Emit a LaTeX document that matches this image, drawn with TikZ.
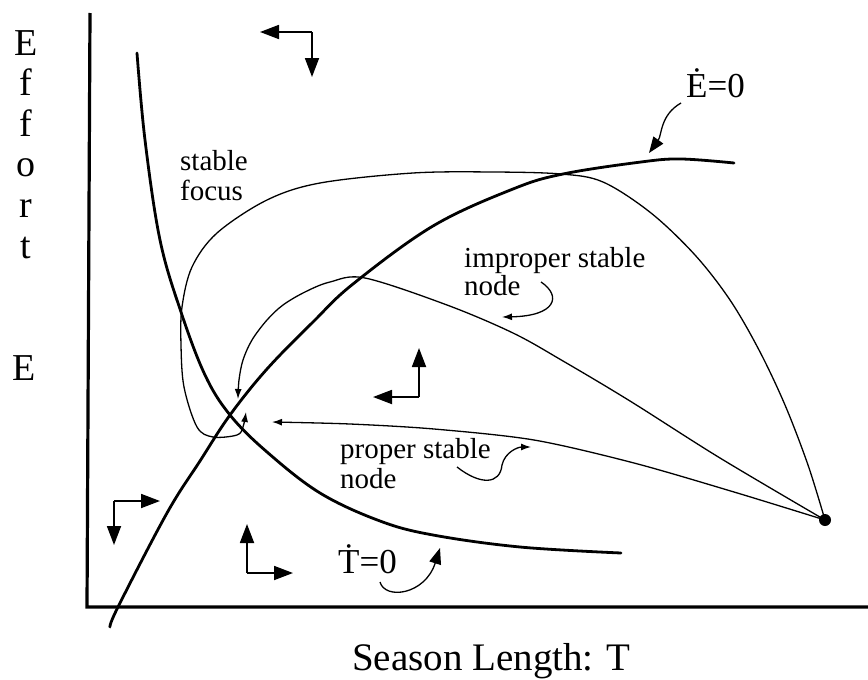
\documentclass[tikz,border=0pt]{standalone}
\usepackage{fontspec}
\setmainfont{Liberation Serif}
\usetikzlibrary{arrows.meta}
\begin{document}
\begin{tikzpicture}[x=1pt,y=-1pt,
  axis/.style={line width=3.2pt},
  iso/.style={line width=2.8pt, line cap=round},
  traj/.style={line width=1.3pt},
  lbl/.style={font=\fontsize{29}{30}\selectfont, inner sep=0pt, anchor=base west},
  eqlbl/.style={font=\fontsize{35}{38}\selectfont, inner sep=0pt, anchor=base west},
  biglbl/.style={font=\fontsize{38}{40.6}\selectfont, inner sep=0pt},
  dirarrow/.style={line width=1.8pt, -{Triangle[length=19pt,width=14pt]}},
  smalltip/.style={-{Latex[length=10pt,width=7pt]}},
  bigtip/.style={-{Triangle[length=16pt,width=12pt]}}
]
\useasboundingbox (0,0) rectangle (868,680);

% axes
\coordinate (ytop) at (90,13);
\coordinate (origin) at (87,607);
\coordinate (xend) at (868,607);
\draw[axis] (ytop) -- (origin) -- (xend);

% axis labels
\node[biglbl, align=center, anchor=north] (effort) at (26,30) {E\\f\\f\\o\\r\\t};
\node[biglbl, anchor=base west] (elabel) at (12,380) {E};
\node[font=\fontsize{39}{42}\selectfont, inner sep=0pt, anchor=base west] (tlabel) at (352,670) {Season Length: T};

% isoclines
\draw[iso] plot[smooth, tension=0.6] coordinates {(137,53) (145,140) (160,240) (181,312) (205,375) (230,415) (267,452) (320,493) (380,521) (433,535) (520,547) (621,553)};
\draw[iso] plot[smooth, tension=0.6] coordinates {(110,627) (118,607) (167,513) (200,461) (230,415) (267,369) (313,322) (353,284) (433,226) (513,189) (563,174) (641,162) (681,159) (734,163)};

% equilibrium and source
\coordinate (eq) at (230,415);
\node[circle, fill=black, inner sep=0pt, minimum size=12pt] (src) at (825,520) {};

% trajectories
\draw[traj, smalltip] plot[smooth, tension=0.55] coordinates {(825,520) (808,465) (785,405) (759,350) (730,300) (695,255) (651,213) (603,182) (561,174) (493,172) (413,173) (320,183) (267,200) (217,233) (192,267) (182,307) (181,345) (184,387) (197,427) (213,437) (237,435) (243,427) (246,412)};
\draw[traj, smalltip] plot[smooth, tension=0.55] coordinates {(825,520) (720,458) (630,401) (563,361) (513,333) (447,305) (365,278) (330,282) (305,292) (283,305) (267,320) (252,340) (243,360) (239,380) (238,399)};
\draw[traj, smalltip] plot[smooth, tension=0.5] coordinates {(825,520) (734,492) (634,463) (534,440) (434,429) (350,424) (272,422)};

% labels
\node[lbl] (sf1) at (180,170) {stable};
\node[lbl] (sf2) at (180,200) {focus};
\node[lbl] (is1) at (464,267) {improper stable};
\node[lbl] (is2) at (464,295) {node};
\node[lbl] (ps1) at (340,458) {proper stable};
\node[lbl] (ps2) at (340,488) {node};
\node[eqlbl] (edot) at (686,97) {\.{E}=0};
\node[eqlbl] (tdot) at (338,573) {\.{T}=0};

% label pointers
\coordinate (ep) at (649,153);
\draw[traj, bigtip] (681,103) .. controls (660,115) and (662,135) .. (ep);
\coordinate (ip) at (502,317);
\draw[traj, smalltip] (541,282) .. controls (562,296) and (556,316) .. (ip);
\coordinate (pp) at (531,447);
\draw[traj, smalltip] (457,467) .. controls (480,485) and (500,485) .. (502,465) .. controls (505,452) and (518,447) .. (pp);
\coordinate (tp) at (440,548);
\draw[traj, bigtip] (380,582) .. controls (385,600) and (425,595) .. (tp);

% direction arrows
\coordinate (d1) at (312,32);
\draw[dirarrow] (d1) -- (260,32);
\draw[dirarrow] (d1) -- (312,77);
\coordinate (d2) at (419,397);
\draw[dirarrow] (d2) -- (419,348);
\draw[dirarrow] (d2) -- (373,397);
\coordinate (d3) at (114,501);
\draw[dirarrow] (d3) -- (160,501);
\draw[dirarrow] (d3) -- (114,545);
\coordinate (d4) at (247,573);
\draw[dirarrow] (d4) -- (247,524);
\draw[dirarrow] (d4) -- (293,573);
\end{tikzpicture}
\end{document}
